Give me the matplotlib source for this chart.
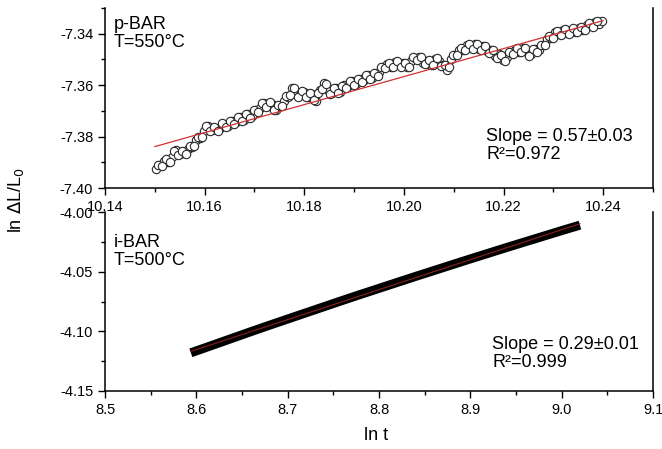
import matplotlib
matplotlib.use('Agg')
import matplotlib.pyplot as plt
from matplotlib.ticker import MultipleLocator

plt.rcParams['font.family'] = ['Liberation Sans', 'DejaVu Sans']

# p-BAR, T=550 C  (ln t, ln dL/L0) -- two interleaved runs of readings
p_x = [10.1503, 10.1511, 10.1519, 10.1527, 10.1535, 10.1543, 10.1551, 10.1559,
       10.1567, 10.1575, 10.1583, 10.1591, 10.1599, 10.1607, 10.1615, 10.1623,
       10.1631, 10.1639, 10.1647, 10.1655, 10.1663, 10.1671, 10.1679, 10.1687,
       10.1695, 10.1703, 10.1711, 10.1719, 10.1727, 10.1735, 10.1743, 10.1751,
       10.1759, 10.1767, 10.1775, 10.1783, 10.1791, 10.1799, 10.1807, 10.1815,
       10.1823, 10.1831, 10.1839, 10.1847, 10.1855, 10.1863, 10.1871, 10.1879,
       10.1887, 10.1895, 10.1903, 10.1911, 10.1919, 10.1927, 10.1935, 10.1943,
       10.1951, 10.1959, 10.1967, 10.1975, 10.1983, 10.1991, 10.1999, 10.2007,
       10.2015, 10.2023, 10.2031, 10.2039, 10.2047, 10.2055, 10.2063, 10.2071,
       10.2079, 10.2087, 10.2095, 10.2103, 10.2111, 10.2119, 10.2127, 10.2135,
       10.2143, 10.2151, 10.2159, 10.2167, 10.2175, 10.2183, 10.2191, 10.2199,
       10.2207, 10.2215, 10.2223, 10.2231, 10.2239, 10.2247, 10.2255, 10.2263,
       10.2271, 10.2279, 10.2287, 10.2295, 10.2303, 10.2311, 10.2319, 10.2327,
       10.2335, 10.2343, 10.2351, 10.2359, 10.2367, 10.2375, 10.2383, 10.2391,
       10.2397]
p_y = [-7.3928, -7.3910, -7.3895, -7.3898, -7.3880, -7.3852, -7.3868, -7.3862,
       -7.3850, -7.3840, -7.3815, -7.3805, -7.3778, -7.3760, -7.3775, -7.3772,
       -7.3765, -7.3750, -7.3758, -7.3740, -7.3745, -7.3722, -7.3735, -7.3712,
       -7.3720, -7.3695, -7.3690, -7.3668, -7.3682, -7.3672, -7.3698, -7.3680,
       -7.3662, -7.3645, -7.3612, -7.3630, -7.3640, -7.3628, -7.3648, -7.3635,
       -7.3660, -7.3620, -7.3592, -7.3618, -7.3630, -7.3612, -7.3625, -7.3600,
       -7.3605, -7.3585, -7.3595, -7.3575, -7.3580, -7.3562, -7.3572, -7.3555,
       -7.3550, -7.3530, -7.3518, -7.3528, -7.3510, -7.3522, -7.3515, -7.3530,
       -7.3505, -7.3495, -7.3490, -7.3512, -7.3505, -7.3520, -7.3500, -7.3508,
       -7.3522, -7.3540, -7.3500, -7.3482, -7.3462, -7.3465, -7.3445, -7.3455,
       -7.3440, -7.3458, -7.3448, -7.3468, -7.3462, -7.3485, -7.3480, -7.3502,
       -7.3490, -7.3475, -7.3462, -7.3470, -7.3455, -7.3472, -7.3480, -7.3458,
       -7.3462, -7.3445, -7.3420, -7.3418, -7.3395, -7.3402, -7.3385, -7.3396,
       -7.3385, -7.3392, -7.3378, -7.3386, -7.3365, -7.3370, -7.3355, -7.3362,
       -7.3350]
p_x2 = [10.1507, 10.1515, 10.1523, 10.1531, 10.1539, 10.1547, 10.1555, 10.1563,
        10.1571, 10.1579, 10.1587, 10.1595, 10.1603, 10.1611, 10.1619, 10.1627,
        10.1635, 10.1643, 10.1651, 10.1659, 10.1667, 10.1675, 10.1683, 10.1691,
        10.1699, 10.1707, 10.1715, 10.1723, 10.1731, 10.1739, 10.1747, 10.1755,
        10.1763, 10.1771, 10.1779, 10.1787, 10.1795, 10.1803, 10.1811, 10.1819,
        10.1827, 10.1835, 10.1843, 10.1851, 10.1859, 10.1867, 10.1875, 10.1883,
        10.1891, 10.1899, 10.1907, 10.1915, 10.1923, 10.1931, 10.1939, 10.1947,
        10.1955, 10.1963, 10.1971, 10.1979, 10.1987, 10.1995, 10.2003, 10.2011,
        10.2019, 10.2027, 10.2035, 10.2043, 10.2051, 10.2059, 10.2067, 10.2075,
        10.2083, 10.2091, 10.2099, 10.2107, 10.2115, 10.2123, 10.2131, 10.2139,
        10.2147, 10.2155, 10.2163, 10.2171, 10.2179, 10.2187, 10.2195, 10.2203,
        10.2211, 10.2219, 10.2227, 10.2235, 10.2243, 10.2251, 10.2259, 10.2267,
        10.2275, 10.2283, 10.2291, 10.2299, 10.2307, 10.2315, 10.2323, 10.2331,
        10.2339, 10.2347, 10.2355, 10.2363, 10.2371, 10.2379, 10.2387]
p_y2 = [-7.3909, -7.3913, -7.3887, -7.3899, -7.3856, -7.3870, -7.3855, -7.3866,
        -7.3835, -7.3838, -7.3800, -7.3802, -7.3759, -7.3778, -7.3764, -7.3779,
        -7.3748, -7.3764, -7.3739, -7.3753, -7.3724, -7.3739, -7.3714, -7.3726,
        -7.3698, -7.3703, -7.3669, -7.3685, -7.3667, -7.3695, -7.3679, -7.3681,
        -7.3644, -7.3639, -7.3611, -7.3645, -7.3624, -7.3648, -7.3632, -7.3658,
        -7.3630, -7.3616, -7.3595, -7.3634, -7.3611, -7.3629, -7.3603, -7.3613,
        -7.3585, -7.3600, -7.3575, -7.3588, -7.3561, -7.3577, -7.3554, -7.3563,
        -7.3530, -7.3534, -7.3513, -7.3529, -7.3506, -7.3529, -7.3513, -7.3528,
        -7.3490, -7.3503, -7.3491, -7.3519, -7.3503, -7.3520, -7.3494, -7.3525,
        -7.3521, -7.3530, -7.3481, -7.3482, -7.3454, -7.3465, -7.3440, -7.3458,
        -7.3439, -7.3463, -7.3448, -7.3475, -7.3464, -7.3493, -7.3481, -7.3506,
        -7.3473, -7.3479, -7.3456, -7.3473, -7.3454, -7.3486, -7.3459, -7.3470,
        -7.3444, -7.3443, -7.3409, -7.3417, -7.3389, -7.3404, -7.3381, -7.3401,
        -7.3379, -7.3395, -7.3372, -7.3386, -7.3358, -7.3373, -7.3349]
p_fit_x = [10.150, 10.240]
p_fit_y = [-7.3839, -7.3349]

# i-BAR, T=500 C
i_x = [8.594, 8.62, 8.64, 8.66, 8.68, 8.70, 8.72, 8.74, 8.76, 8.78, 8.80,
       8.82, 8.84, 8.86, 8.88, 8.90, 8.92, 8.94, 8.96, 8.98, 9.00, 9.02]
i_y = [-4.1180, -4.1110, -4.1056, -4.1002, -4.0949, -4.0897, -4.0845, -4.0793,
       -4.0741, -4.0690, -4.0640, -4.0590, -4.0540, -4.0491, -4.0442, -4.0393,
       -4.0345, -4.0297, -4.0250, -4.0203, -4.0156, -4.0110]
i_fit_x = [8.594, 9.020]
i_fit_y = [-4.1168, -4.0098]

W, H = 662, 449
fig = plt.figure(figsize=(W / 100, H / 100), dpi=100)

def px_box(left, top, right, bottom):
    return [left / W, 1 - bottom / H, (right - left) / W, (bottom - top) / H]

def fx(px):
    return px / W

def fy(py):
    return 1 - py / H

ax1 = fig.add_axes(px_box(105, 8, 653, 188))
ax2 = fig.add_axes(px_box(105, 212, 653, 391))

for ax in (ax1, ax2):
    ax.spines['top'].set_visible(False)
    for s in ('left', 'bottom', 'right'):
        ax.spines[s].set_linewidth(1.1)
    ax.tick_params(which='both', direction='out', labelsize=10.5, width=1.0,
                   top=False, right=False)
    ax.tick_params(which='major', length=5)
    ax.tick_params(which='minor', length=3)

ax1.scatter(p_x, p_y, s=36, facecolors='white', edgecolors='#2a2a2a',
            linewidths=0.8, zorder=2)
ax1.scatter(p_x2, p_y2, s=36, facecolors='white', edgecolors='#2a2a2a',
            linewidths=0.8, zorder=2)
ax1.plot(p_fit_x, p_fit_y, color='#d03030', lw=0.9, zorder=3)
ax1.set_xlim(10.14, 10.25)
ax1.set_ylim(-7.40, -7.33)
ax1.xaxis.set_minor_locator(MultipleLocator(0.01))
ax1.yaxis.set_minor_locator(MultipleLocator(0.01))
ax1.set_xticks([10.14, 10.16, 10.18, 10.20, 10.22, 10.24])
ax1.set_xticklabels(['10.14', '10.16', '10.18', '10.20', '10.22', '10.24'])
ax1.set_yticks([-7.40, -7.38, -7.36, -7.34])
ax1.set_yticklabels(['-7.40', '-7.38', '-7.36', '-7.34'])

# dense run of square markers shows as a solid band
ax2.plot(i_x, i_y, color='black', lw=6.5, solid_capstyle='butt',
         solid_joinstyle='round', zorder=2)
ax2.plot(i_fit_x, i_fit_y, color='#8a2020', lw=0.8, zorder=3)
ax2.set_xlim(8.5, 9.1)
ax2.set_ylim(-4.15, -4.00)
ax2.xaxis.set_minor_locator(MultipleLocator(0.05))
ax2.yaxis.set_minor_locator(MultipleLocator(0.025))
ax2.set_xticks([8.5, 8.6, 8.7, 8.8, 8.9, 9.0, 9.1])
ax2.set_xticklabels(['8.5', '8.6', '8.7', '8.8', '8.9', '9.0', '9.1'])
ax2.set_yticks([-4.15, -4.10, -4.05, -4.00])
ax2.set_yticklabels(['-4.15', '-4.10', '-4.05', '-4.00'])

txt = dict(fontsize=13, ha='left', va='top', linespacing=1.1)
fig.text(fx(114), fy(16), 'p-BAR\nT=550°C', **txt)
fig.text(fx(486), fy(128), 'Slope = 0.57±0.03\nR²=0.972', **txt)
fig.text(fx(114), fy(234), 'i-BAR\nT=500°C', **txt)
fig.text(fx(492), fy(336), 'Slope = 0.29±0.01\nR²=0.999', **txt)

fig.text(fx(16), fy(200), r'ln $\Delta$L/L$_0$', rotation=90, fontsize=13,
         ha='center', va='center')
fig.text(fx(376), fy(436), 'ln t', fontsize=13, ha='center', va='center')

fig.savefig('out.png', dpi=100)
